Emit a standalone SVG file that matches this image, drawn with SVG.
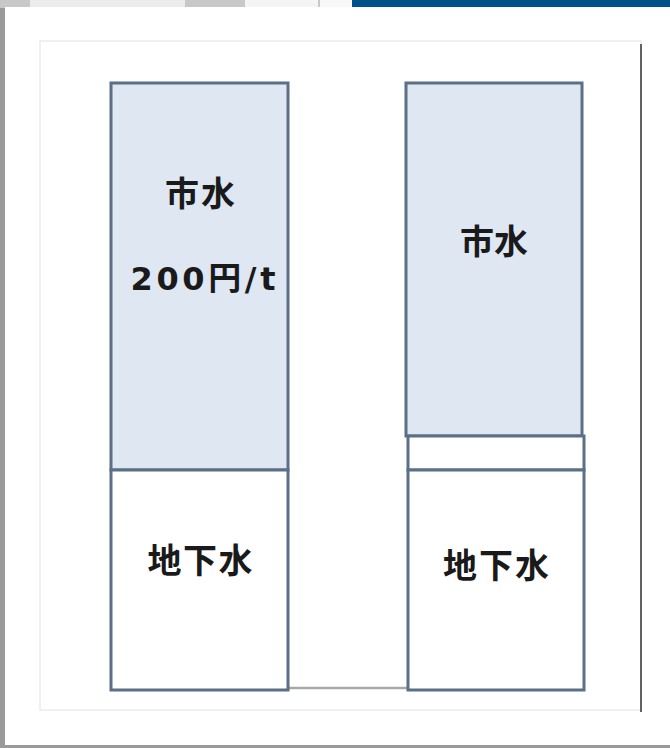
<svg xmlns="http://www.w3.org/2000/svg" width="670" height="748" viewBox="0 0 670 748">
<style>
.box{stroke:#5b6f86;stroke-width:3;}
.blue{fill:#dfe7f2;}
.white{fill:#ffffff;}
.lbl{font-family:"Noto Sans CJK JP","Noto Sans",sans-serif;font-weight:bold;font-size:34px;fill:#1a1a1a;text-anchor:middle;}
.num{font-family:"DejaVu Sans","Noto Sans CJK JP",sans-serif;font-weight:bold;font-size:32px;fill:#1a1a1a;text-anchor:middle;}
</style>
<rect x="0" y="0" width="670" height="748" fill="#9a9a9a"/>
<rect x="0" y="0" width="352" height="8" fill="#c8c8c8"/>
<rect x="30" y="0" width="155" height="8" fill="#ececec"/>
<rect x="245" y="0" width="73" height="8" fill="#f4f4f4"/>
<rect x="320" y="0" width="32" height="8" fill="#f8f8f8"/>
<rect x="352" y="0" width="318" height="8" fill="#00508a"/>
<rect x="5" y="7" width="665" height="738" fill="#ffffff"/>
<rect x="40" y="41" width="601" height="669" fill="#ffffff" stroke="#ececec" stroke-width="1.5"/>
<line x1="641" y1="44" x2="641" y2="712" stroke="#333" stroke-width="1.5"/>
<g id="connectors">
<line x1="288" y1="688" x2="408" y2="688" stroke="#a8a8a8" stroke-width="2.5"/>
</g>
<g id="left-city">
<rect class="box blue" x="111" y="83" width="177" height="387"/>
<text class="lbl" x="200" y="206" textLength="70" lengthAdjust="spacing">市水</text>
<text class="num" x="203" y="290" textLength="145" lengthAdjust="spacing">200<tspan font-family="Noto Sans CJK JP, sans-serif" font-size="33">円</tspan>/t</text>
</g>
<g id="left-ground">
<rect class="box white" x="111" y="470" width="177" height="220"/>
<text class="lbl" x="200" y="573" textLength="105" lengthAdjust="spacing">地下水</text>
</g>
<g id="right-city">
<rect class="box blue" x="406" y="83" width="176" height="353"/>
<text class="lbl" x="494" y="254" textLength="68" lengthAdjust="spacing">市水</text>
</g>
<g id="right-gap">
<rect class="box white" x="408" y="436" width="176" height="34"/>
</g>
<g id="right-ground">
<rect class="box white" x="408" y="470" width="176" height="220"/>
<text class="lbl" x="496" y="578" textLength="106" lengthAdjust="spacing">地下水</text>
</g>
</svg>
